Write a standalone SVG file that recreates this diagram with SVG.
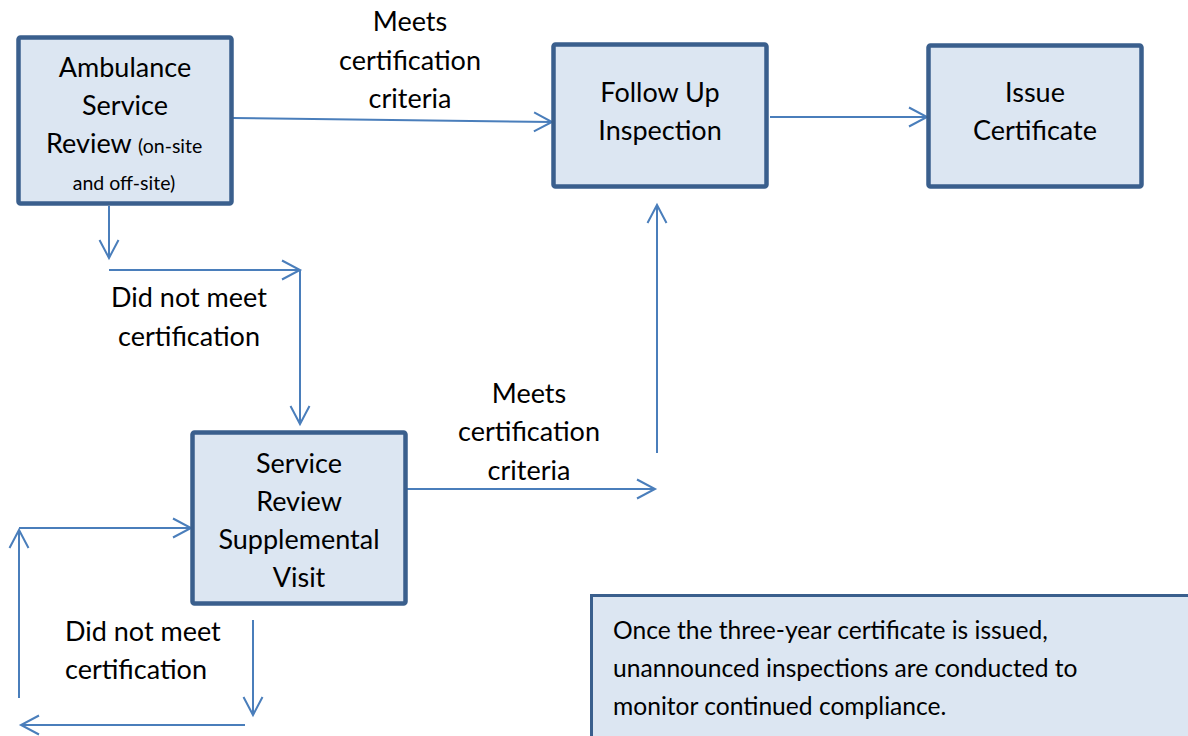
<svg xmlns="http://www.w3.org/2000/svg" width="1188" height="736" viewBox="0 0 1188 736">
<style>
.box{fill:#dce6f2;stroke:#3a5f8d;stroke-width:4.5}
.note{fill:#dce6f2;stroke:#3a5f8d;stroke-width:3}
.t{font-family:Lato,"Liberation Sans",sans-serif;font-size:27px;fill:#000}
.s{font-size:19.5px}
.n{font-size:24.6px}
.c{text-anchor:middle}
.ln{fill:none;stroke:#4a7ebb;stroke-width:2}
.arr{marker-end:url(#ah)}
</style>
<defs>
<marker id="ah" markerUnits="userSpaceOnUse" viewBox="-20 -12 24 24" refX="0" refY="0" markerWidth="24" markerHeight="24" orient="auto" overflow="visible">
<path d="M-18,-9.5 L0,0 L-18,9.5" fill="none" stroke="#4a7ebb" stroke-width="2"/>
</marker>
</defs>
<rect x="0" y="0" width="1188" height="736" fill="#fff"/>
<g id="connectors">
<line class="ln arr" x1="233" y1="118" x2="552" y2="122"/>
<line class="ln arr" x1="770" y1="117" x2="927" y2="117"/>
<line class="ln arr" x1="109" y1="206" x2="109" y2="258"/>
<line class="ln arr" x1="109" y1="270" x2="300" y2="270"/>
<line class="ln arr" x1="300" y1="270" x2="300" y2="424"/>
<line class="ln arr" x1="407" y1="489" x2="655" y2="489"/>
<line class="ln arr" x1="657" y1="453" x2="657" y2="205"/>
<line class="ln arr" x1="19" y1="528" x2="191" y2="528"/>
<line class="ln arr" x1="19" y1="698" x2="19" y2="530"/>
<line class="ln arr" x1="253" y1="620" x2="253" y2="715"/>
<line class="ln arr" x1="245" y1="725" x2="21" y2="725"/>
</g>
<g id="labels">
<text class="t c" x="410" y="31">Meets</text>
<text class="t c" x="410" y="70">certification</text>
<text class="t c" x="410" y="108">criteria</text>
<text class="t c" x="529" y="403">Meets</text>
<text class="t c" x="529" y="441">certification</text>
<text class="t c" x="529" y="480">criteria</text>
<text class="t c" x="189" y="307">Did not meet</text>
<text class="t c" x="189" y="346">certification</text>
<text class="t" x="65" y="641">Did not meet</text>
<text class="t" x="65" y="679">certification</text>
</g>
<g id="ambulance">
<rect class="box" x="18.5" y="37.5" width="213" height="166" rx="2"/>
<text class="t c" x="125" y="77">Ambulance</text>
<text class="t c" x="125" y="115">Service</text>
<text class="t" x="46" y="153">Review <tspan class="s">(on-site</tspan></text>
<text class="t s c" x="124" y="190">and off-site)</text>
</g>
<g id="followup">
<rect class="box" x="553.5" y="44.5" width="213" height="142" rx="2"/>
<text class="t c" x="660" y="102">Follow Up</text>
<text class="t c" x="660" y="140">Inspection</text>
</g>
<g id="issue">
<rect class="box" x="928.5" y="45.5" width="213" height="141" rx="2"/>
<text class="t c" x="1035" y="102">Issue</text>
<text class="t c" x="1035" y="140">Certificate</text>
</g>
<g id="supplemental">
<rect class="box" x="192.5" y="432.5" width="213" height="171" rx="2"/>
<text class="t c" x="299" y="473">Service</text>
<text class="t c" x="299" y="511">Review</text>
<text class="t c" x="299" y="549">Supplemental</text>
<text class="t c" x="299" y="587">Visit</text>
</g>
<g id="note">
<rect class="note" x="591.5" y="595.5" width="620" height="160"/>
<text class="t n" x="613" y="639">Once the three-year certificate is issued,</text>
<text class="t n" x="613" y="677">unannounced inspections are conducted to</text>
<text class="t n" x="613" y="715">monitor continued compliance.</text>
</g>
</svg>
